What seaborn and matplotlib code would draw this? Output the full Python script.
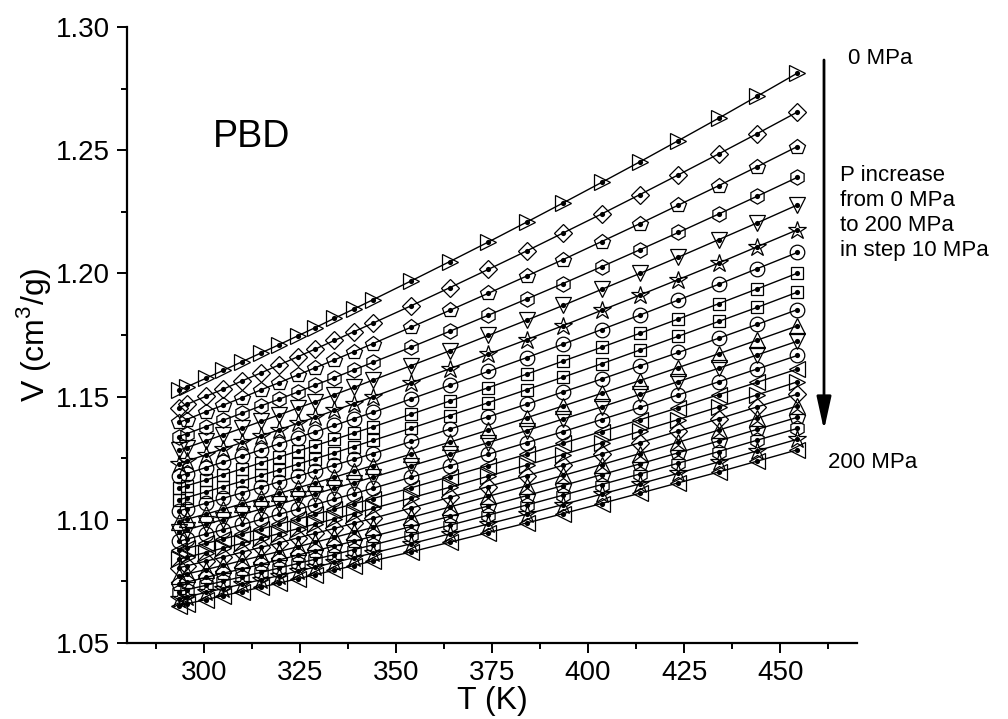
import matplotlib
matplotlib.use("Agg")
import matplotlib.pyplot as plt
from matplotlib.ticker import AutoMinorLocator, FormatStrFormatter
import seaborn as sns
import pandas as pd

# ---------------- data ----------------
temperature_K = [293.5, 295.5, 300.5, 305.0, 310.0, 315.0, 319.5, 324.5, 329.0, 334.0,
                 339.0, 344.0, 354.0, 364.0, 374.0, 384.0, 393.5, 403.5, 413.5, 423.5,
                 434.0, 444.0, 454.5]

pressure_MPa = [0, 10, 20, 30, 40, 50, 60, 70, 80, 90, 100,
                110, 120, 130, 140, 150, 160, 170, 180, 190, 200]

v_000 = [1.1525, 1.1539, 1.1574, 1.1606, 1.1642, 1.1678, 1.1710, 1.1747, 1.1780, 1.1818, 1.1855, 1.1893, 1.1970, 1.2048, 1.2127, 1.2208, 1.2286, 1.2369, 1.2453, 1.2539, 1.2630, 1.2719, 1.2813]
v_010 = [1.1455, 1.1468, 1.1501, 1.1530, 1.1564, 1.1597, 1.1628, 1.1662, 1.1693, 1.1728, 1.1763, 1.1798, 1.1869, 1.1942, 1.2016, 1.2091, 1.2164, 1.2241, 1.2320, 1.2400, 1.2485, 1.2567, 1.2655]
v_020 = [1.1395, 1.1407, 1.1438, 1.1465, 1.1496, 1.1528, 1.1556, 1.1588, 1.1617, 1.1649, 1.1682, 1.1715, 1.1782, 1.1850, 1.1919, 1.1989, 1.2056, 1.2129, 1.2202, 1.2277, 1.2356, 1.2433, 1.2515]
v_030 = [1.1338, 1.1349, 1.1378, 1.1404, 1.1433, 1.1463, 1.1489, 1.1519, 1.1547, 1.1577, 1.1608, 1.1639, 1.1701, 1.1765, 1.1830, 1.1896, 1.1959, 1.2027, 1.2096, 1.2166, 1.2241, 1.2313, 1.2390]
v_040 = [1.1282, 1.1293, 1.1320, 1.1345, 1.1372, 1.1400, 1.1425, 1.1454, 1.1479, 1.1508, 1.1537, 1.1567, 1.1626, 1.1686, 1.1748, 1.1810, 1.1870, 1.1935, 1.2000, 1.2066, 1.2137, 1.2205, 1.2278]
v_050 = [1.1228, 1.1238, 1.1264, 1.1288, 1.1314, 1.1341, 1.1365, 1.1392, 1.1416, 1.1444, 1.1471, 1.1499, 1.1556, 1.1613, 1.1672, 1.1731, 1.1788, 1.1850, 1.1912, 1.1975, 1.2042, 1.2108, 1.2177]
v_060 = [1.1177, 1.1187, 1.1212, 1.1234, 1.1259, 1.1285, 1.1308, 1.1334, 1.1357, 1.1383, 1.1410, 1.1436, 1.1491, 1.1546, 1.1602, 1.1658, 1.1713, 1.1772, 1.1831, 1.1892, 1.1956, 1.2019, 1.2085]
v_070 = [1.1128, 1.1138, 1.1161, 1.1183, 1.1207, 1.1232, 1.1254, 1.1279, 1.1301, 1.1326, 1.1352, 1.1377, 1.1429, 1.1482, 1.1536, 1.1591, 1.1644, 1.1700, 1.1757, 1.1815, 1.1877, 1.1937, 1.2001]
v_080 = [1.1081, 1.1090, 1.1113, 1.1134, 1.1157, 1.1181, 1.1202, 1.1226, 1.1248, 1.1272, 1.1297, 1.1322, 1.1372, 1.1423, 1.1475, 1.1528, 1.1579, 1.1633, 1.1689, 1.1745, 1.1805, 1.1862, 1.1924]
v_090 = [1.1036, 1.1045, 1.1067, 1.1087, 1.1110, 1.1133, 1.1154, 1.1177, 1.1198, 1.1222, 1.1245, 1.1269, 1.1318, 1.1368, 1.1418, 1.1469, 1.1519, 1.1571, 1.1625, 1.1679, 1.1737, 1.1793, 1.1853]
v_100 = [1.0993, 1.1002, 1.1023, 1.1043, 1.1065, 1.1087, 1.1107, 1.1130, 1.1150, 1.1173, 1.1197, 1.1220, 1.1267, 1.1315, 1.1364, 1.1414, 1.1462, 1.1513, 1.1565, 1.1618, 1.1674, 1.1729, 1.1787]
v_110 = [1.0952, 1.0960, 1.0981, 1.1001, 1.1022, 1.1044, 1.1063, 1.1085, 1.1105, 1.1128, 1.1150, 1.1173, 1.1219, 1.1266, 1.1313, 1.1362, 1.1409, 1.1458, 1.1509, 1.1561, 1.1615, 1.1669, 1.1725]
v_120 = [1.0913, 1.0921, 1.0942, 1.0960, 1.0981, 1.1002, 1.1022, 1.1043, 1.1062, 1.1084, 1.1106, 1.1128, 1.1173, 1.1219, 1.1266, 1.1313, 1.1358, 1.1407, 1.1456, 1.1507, 1.1560, 1.1612, 1.1667]
v_130 = [1.0876, 1.0884, 1.0904, 1.0922, 1.0943, 1.0963, 1.0982, 1.1003, 1.1022, 1.1043, 1.1065, 1.1086, 1.1130, 1.1175, 1.1220, 1.1266, 1.1311, 1.1358, 1.1406, 1.1455, 1.1508, 1.1558, 1.1612]
v_140 = [1.0840, 1.0848, 1.0867, 1.0885, 1.0905, 1.0925, 1.0944, 1.0964, 1.0983, 1.1004, 1.1025, 1.1046, 1.1089, 1.1132, 1.1177, 1.1222, 1.1265, 1.1312, 1.1359, 1.1407, 1.1458, 1.1507, 1.1560]
v_150 = [1.0805, 1.0813, 1.0832, 1.0849, 1.0869, 1.0889, 1.0906, 1.0927, 1.0945, 1.0965, 1.0986, 1.1006, 1.1048, 1.1091, 1.1135, 1.1179, 1.1221, 1.1267, 1.1313, 1.1360, 1.1410, 1.1458, 1.1510]
v_160 = [1.0772, 1.0780, 1.0798, 1.0815, 1.0835, 1.0854, 1.0871, 1.0891, 1.0909, 1.0929, 1.0949, 1.0969, 1.1010, 1.1052, 1.1095, 1.1138, 1.1180, 1.1224, 1.1269, 1.1315, 1.1364, 1.1412, 1.1462]
v_170 = [1.0740, 1.0747, 1.0766, 1.0783, 1.0801, 1.0820, 1.0837, 1.0857, 1.0874, 1.0894, 1.0913, 1.0933, 1.0973, 1.1014, 1.1056, 1.1098, 1.1139, 1.1183, 1.1227, 1.1272, 1.1320, 1.1367, 1.1416]
v_180 = [1.0709, 1.0716, 1.0734, 1.0751, 1.0769, 1.0787, 1.0804, 1.0823, 1.0840, 1.0859, 1.0879, 1.0898, 1.0938, 1.0978, 1.1019, 1.1060, 1.1100, 1.1143, 1.1186, 1.1230, 1.1277, 1.1323, 1.1371]
v_190 = [1.0680, 1.0687, 1.0705, 1.0721, 1.0739, 1.0757, 1.0773, 1.0792, 1.0808, 1.0827, 1.0846, 1.0865, 1.0903, 1.0943, 1.0983, 1.1023, 1.1062, 1.1104, 1.1146, 1.1189, 1.1235, 1.1280, 1.1327]
v_200 = [1.0652, 1.0659, 1.0676, 1.0692, 1.0709, 1.0727, 1.0743, 1.0761, 1.0777, 1.0796, 1.0814, 1.0833, 1.0870, 1.0909, 1.0948, 1.0987, 1.1025, 1.1066, 1.1108, 1.1150, 1.1194, 1.1238, 1.1284]

isobars = [v_000, v_010, v_020, v_030, v_040, v_050, v_060, v_070, v_080, v_090, v_100,
           v_110, v_120, v_130, v_140, v_150, v_160, v_170, v_180, v_190, v_200]

x_ticks = [300, 325, 350, 375, 400, 425, 450]
y_ticks = [1.05, 1.10, 1.15, 1.20, 1.25, 1.30]

# ---------------- style ----------------
markers = ['>', 'D', 'p', 'h', 'v', '*', 'o', 's', 's', 'o', '^',
           'v', 'o', '<', '>', 'D', '^', 'p', 'h', '*', '<']
msize = {'>': 12, '<': 12, '^': 12, 'v': 12, 'D': 9.5, 'p': 11.5, 'h': 11,
         '*': 13.5, 'o': 10.5, 's': 8.5}

sns.set_style("ticks", {'axes.edgecolor': 'black', 'xtick.color': 'black',
                        'ytick.color': 'black', 'text.color': 'black',
                        'axes.labelcolor': 'black'})
plt.rcParams['font.family'] = ['Liberation Sans', 'DejaVu Sans']
plt.rcParams['mathtext.fontset'] = 'custom'
plt.rcParams['mathtext.rm'] = 'Liberation Sans'

fig = plt.figure(figsize=(10.08, 7.19), dpi=100)
ax = fig.add_axes([127 / 1008, 1 - 643 / 719, 730 / 1008, 616 / 719])

rows = []
for p, vals in zip(pressure_MPa, isobars):
    for t, v in zip(temperature_K, vals):
        rows.append({'P': p, 'T': t, 'V': v})
df = pd.DataFrame(rows)

for i, p in enumerate(pressure_MPa):
    sub = df[df['P'] == p]
    m = markers[i]
    sns.lineplot(data=sub, x='T', y='V', ax=ax, color='black', linewidth=1.0,
                 marker=m, markersize=msize[m], markerfacecolor='none',
                 markeredgecolor='black', markeredgewidth=0.9, estimator=None,
                 sort=True, legend=False)
    sns.scatterplot(data=sub, x='T', y='V', ax=ax, color='black', s=14,
                    linewidth=0, legend=False, zorder=5)

ax.set_xlim(280, 470)
ax.set_ylim(1.05, 1.30)
ax.set_xticks(x_ticks)
ax.set_yticks(y_ticks)
ax.yaxis.set_major_formatter(FormatStrFormatter('%.2f'))
ax.xaxis.set_minor_locator(AutoMinorLocator(2))
ax.yaxis.set_minor_locator(AutoMinorLocator(2))
ax.tick_params(which='major', direction='out', length=7.5, width=1.4,
               labelsize=20, pad=5, colors='black')
ax.tick_params(which='minor', direction='out', length=4.3, width=1.4, colors='black')
sns.despine(ax=ax)
for s in ['left', 'bottom']:
    ax.spines[s].set_linewidth(1.6)
    ax.spines[s].set_color('black')

ax.set_xlabel('T (K)', fontsize=23, labelpad=0, color='black')
ax.set_ylabel(r'V (cm$^3$/g)', fontsize=23, labelpad=2, color='black')

# ---------------- annotations ----------------
fig.text(213 / 1008, 1 - 137 / 719, 'PBD', fontsize=27, va='center', ha='left',
         color='black')
fig.text(848 / 1008, 1 - 58 / 719, '0 MPa', fontsize=16, va='center', ha='left',
         color='black')
fig.text(840 / 1008, 1 - 165 / 719,
         'P increase\nfrom 0 MPa\nto 200 MPa\nin step 10 MPa',
         fontsize=16, va='top', ha='left', linespacing=1.25, color='black')
fig.text(828 / 1008, 1 - 463 / 719, '200 MPa', fontsize=16, va='center', ha='left',
         color='black')

ax.annotate('', xy=(824 / 1008, 1 - 430 / 719), xytext=(824 / 1008, 1 - 60 / 719),
            xycoords='figure fraction', textcoords='figure fraction',
            arrowprops=dict(arrowstyle='-|>,head_length=1.0,head_width=0.22',
                            mutation_scale=20, lw=2, color='black',
                            shrinkA=0, shrinkB=0))

fig.savefig('out.png', dpi=100)
